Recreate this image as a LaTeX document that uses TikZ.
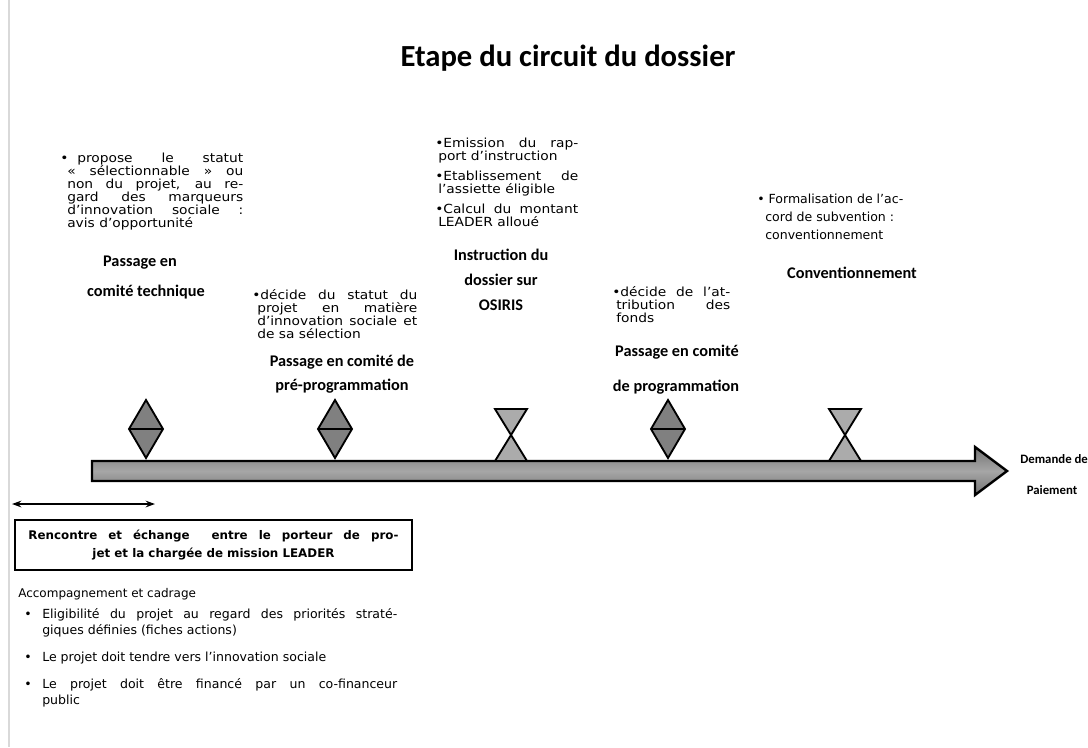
\documentclass[tikz,border=0pt]{standalone}
\usepackage{fontspec}
\usetikzlibrary{arrows.meta}
\newfontfamily\carl{Carlito}
\newfontfamily\dvs{DejaVu Sans}
\newfontfamily\dvw[FakeStretch=1.1]{DejaVu Sans}
\newcommand{\jl}[2]{\makebox[#1][s]{#2}}
\begin{document}
\begin{tikzpicture}[x=0.75pt,y=-0.75pt,
  body/.style={font=\dvw\fontsize{9.4}{9.75}\selectfont, inner sep=0pt, align=left, anchor=base west},
  lab/.style={font=\carl\bfseries\fontsize{12.2}{14}\selectfont, inner sep=0pt, anchor=base},
  diam/.style={fill=black!50, draw=black, line width=1.4pt, line join=miter},
  hglass/.style={fill=black!33, draw=black, line width=1.4pt, line join=miter},
  tl/.style={draw=black, line width=1.8pt, top color=black!55, bottom color=black!55, middle color=black!35},
]
\useasboundingbox (0,0) rectangle (1088,747);
\fill[white] (0,0) rectangle (1088,747);
\draw[black!15, line width=0.8pt] (9,0) -- (9,747);

% title
\node[font=\carl\bfseries\fontsize{23}{26}\selectfont, inner sep=0pt] (title) at (568,58) {Etape du circuit du dossier};

% top texts (anchored at the baseline of their last line)
\node[body] (b1) at (60,227) {\makebox[12.75pt][l]{•}\jl{124.5pt}{propose le statut}\\
\hspace*{5.25pt}\jl{132pt}{« sélectionnable » ou}\\
\hspace*{5.25pt}\jl{132pt}{non du projet, au re-}\\
\hspace*{5.25pt}\jl{132pt}{gard des marqueurs}\\
\hspace*{5.25pt}\jl{132pt}{d’innovation sociale :}\\
\hspace*{5.25pt}avis d’opportunité};

\node[body] (b2) at (252,338) {\jl{123.75pt}{•décide du statut du}\\
\hspace*{3.75pt}\jl{120pt}{projet en matière}\\
\hspace*{3.75pt}\jl{120pt}{d’innovation sociale et}\\
\hspace*{3.75pt}de sa sélection};

\node[body] (b3) at (435,226) {\jl{107.25pt}{•Emission du rap-}\\
\hspace*{2.25pt}port d’instruction\\[5pt]
\jl{107.25pt}{•Etablissement de}\\
\hspace*{2.25pt}l’assiette éligible\\[5pt]
\jl{107.25pt}{•Calcul du montant}\\
\hspace*{2.25pt}LEADER alloué};

\node[body] (b4) at (612,322) {\jl{88.5pt}{•décide de l’at-}\\
\hspace*{3pt}\jl{85.5pt}{tribution des}\\
\hspace*{3pt}fonds};

\node[body, font=\dvs\fontsize{9.4}{13.5}\selectfont] (b5) at (757,239) {• Formalisation de l’ac-\\
\hspace*{6pt}cord de subvention :\\
\hspace*{6pt}conventionnement};

% labels
\node[lab] (l1a) at (140,266) {Passage en};
\node[lab] (l1b) at (146,296) {comité technique};
\node[lab] (l2a) at (342,366) {Passage en comité de};
\node[lab] (l2b) at (342,390) {pré-programmation};
\node[lab] (l3a) at (501,260) {Instruction du};
\node[lab] (l3b) at (501,285) {dossier sur};
\node[lab] (l3c) at (501,310) {OSIRIS};
\node[lab] (l4a) at (677,356) {Passage en comité};
\node[lab] (l4b) at (676,391) {de programmation};
\node[lab] (l5) at (852,278) {Conventionnement};
\node[lab, anchor=base west, font=\carl\bfseries\fontsize{9.6}{11}\selectfont] (d1) at (1020,463) {Demande de};
\node[lab, font=\carl\bfseries\fontsize{9.6}{11}\selectfont] (d2) at (1052,494) {Paiement};

% timeline arrow
\path[tl] (92,461) -- (975,461) -- (975,447) -- (1007,471) -- (975,495) -- (975,481) -- (92,481) -- cycle;

% milestones
\foreach \cx in {146,335,668}{
  \path[diam] (\cx,400) -- (\cx+17,429) -- (\cx,458) -- (\cx-17,429) -- cycle;
  \draw[line width=1.4pt] (\cx-17,429) -- (\cx+17,429);
}
\foreach \cx in {511,845}{
  \path[hglass] (\cx-16,409) -- (\cx+16,409) -- (\cx-16,461) -- (\cx+16,461) -- cycle;
}

% double arrow
\coordinate (ra) at (12,504);
\coordinate (rb) at (155,504);
\draw[{Stealth[length=7pt,width=5pt]}-{Stealth[length=7pt,width=5pt]}, line width=1.3pt] (ra) -- (rb);

% box
\node[draw, line width=1.3pt, minimum width=297.75pt, minimum height=37.5pt, inner sep=0pt,
      align=center, font=\dvs\bfseries\fontsize{8.9}{13.5}\selectfont] (box) at (213.5,545)
  {\jl{277.5pt}{Rencontre et échange\ \ entre le porteur de pro-}\\jet et la chargée de mission LEADER};

% bottom text
\node[body, font=\dvs\fontsize{9}{12}\selectfont] (acc) at (18,597) {Accompagnement et cadrage};
\node[body, font=\dvs\fontsize{9.4}{12}\selectfont] (list) at (24,704)
  {\makebox[13.5pt][l]{•}\jl{266.25pt}{Eligibilité du projet au regard des priorités straté-}\\
   \hspace*{13.5pt}giques définies (fiches actions)\\[8.25pt]
   \makebox[13.5pt][l]{•}Le projet doit tendre vers l’innovation sociale\\[8.25pt]
   \makebox[13.5pt][l]{•}\jl{266.25pt}{Le projet doit être financé par un co-financeur}\\
   \hspace*{13.5pt}public};
\end{tikzpicture}
\end{document}
